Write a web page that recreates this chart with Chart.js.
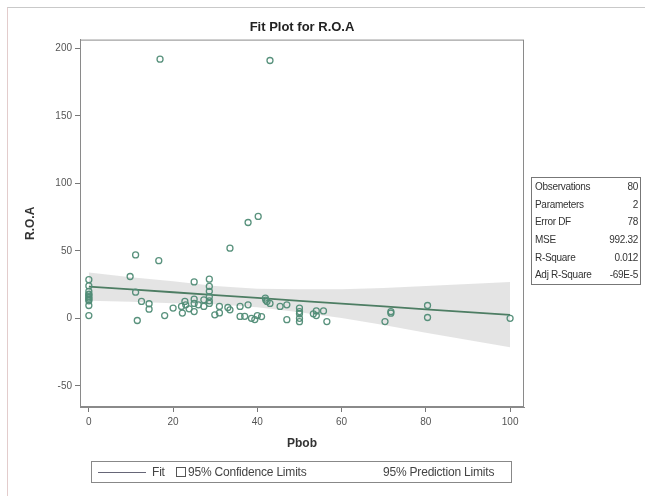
<!DOCTYPE html>
<html>
<head>
<meta charset="utf-8">
<script src="https://cdn.jsdelivr.net/npm/chart.js@4.4.1/dist/chart.umd.min.js"></script>
<style>
  html, body { margin: 0; padding: 0; background: #fff; }
  #wrap { position: relative; width: 645px; height: 496px; }
  #frame { position: absolute; left: 7px; top: 7px; width: 640px; height: 490px;
           border-top: 1px solid #c9c9c9; border-left: 1px solid #e3cccc; }
  canvas { position: absolute; left: 0; top: 0; }
  #stats { position: absolute; left: 531px; top: 177px; width: 110px; border: 1px solid #777;
           font: 10px "Liberation Sans", sans-serif; letter-spacing: -0.3px; color: #333;
           border-collapse: collapse; white-space: nowrap; }
  #stats td { padding: 1px 2px 1px 3px; height: 15.6px; }
  #stats td.v { text-align: right; }
  #legend { position: absolute; left: 91px; top: 461px; width: 419px; height: 20px;
            border: 1px solid #888; font: 12px "Liberation Sans", sans-serif; letter-spacing: -0.2px;
            color: #444; white-space: nowrap; }
  #legend span { position: absolute; top: 3px; }
  #legend .ln { top: 10px; left: 6px; width: 48px; border-top: 1px solid #667; }
  #legend .sq { top: 5px; left: 84px; width: 8px; height: 8px; border: 1px solid #555; }
</style>
</head>
<body>
<div id="wrap">
  <div id="frame"></div>
  <canvas id="fitChart" width="645" height="496"></canvas>
  <table id="stats">
    <tr><td>Observations</td><td class="v">80</td></tr>
    <tr><td>Parameters</td><td class="v">2</td></tr>
    <tr><td>Error DF</td><td class="v">78</td></tr>
    <tr><td>MSE</td><td class="v">992.32</td></tr>
    <tr><td>R-Square</td><td class="v">0.012</td></tr>
    <tr><td>Adj R-Square</td><td class="v">-69E-5</td></tr>
  </table>
  <div id="legend">
    <span class="ln"></span>
    <span style="left:60px">Fit</span>
    <span class="sq"></span>
    <span style="left:96px">95% Confidence Limits</span>
    <span style="left:291px">95% Prediction Limits</span>
  </div>
</div>
<script>
// observations (Pbob, R.O.A)
const pbob = [0, 0, 0, 0, 0, 0, 0, 0, 0, 0, 0,
  9.8, 11.1, 16.6, 11.1, 12.5, 14.3, 14.3, 11.5, 18, 20, 22, 22.2, 22.8, 23.8, 25, 25, 25, 25,
  27.3, 27.3, 28.6, 28.6, 28.6, 28.6, 28.6, 29.9, 31, 31, 33.5, 33.5, 35.9, 35.9, 37.8, 37, 38.6,
  39.4, 41, 41.9, 42.3, 43, 37.8, 40.2, 16.9, 43, 45.4, 47, 47, 50, 50, 50, 50, 53.3, 54, 54,
  55.7, 56.5, 70.3, 71.7, 71.7, 80.4, 80.4, 100, 28.6, 26, 40, 42, 50, 23, 33];
const roa = [28.6, 24, 20, 17.4, 16, 15, 13, 9.5, 2, 18, 14,
  31, 47, 42.7, 19.4, 12.5, 10.8, 6.8, -1.6, 2, 7.6, 8.8, 3.9, 12.5, 7, 14.2, 11, 5, 27,
  13.7, 8.8, 29, 23.6, 20, 16, 11, 2.6, 8.8, 4, 52, 6.3, 8.8, 1.4, 10, 1.5, 0,
  -0.9, 1.3, 15, 12.5, 11, 71, 75.5, 192, 191, 8.8, 10, -1, 7.6, 3.4, 0, -2.5, 3.3, 2, 5.5,
  5.5, -2.4, -2.4, 3.8, 5, 9.5, 0.6, 0, 13, 10, 2, 13.5, 5, 10, 8];

// fitted line and 95% confidence band
const bandX = [0, 10, 20, 30, 40, 50, 60, 70, 80, 90, 100];
const fitY = [23.5, 21.4, 19.3, 17.2, 15.1, 13, 10.9, 8.8, 6.7, 4.6, 2.5];
const bandUpper = [34, 30.5, 27.5, 24, 22, 21.5, 21.5, 22.5, 24, 25.5, 27];
const bandLower = [13, 12.3, 11.1, 10.4, 8.2, 4.5, 0.3, -4.9, -10.6, -16, -21.5];

const xTicks = [0, 20, 40, 60, 80, 100];
const yTicks = [-50, 0, 50, 100, 150, 200];

const pts = (xs, ys) => xs.map((x, i) => ({ x: x, y: ys[i] }));

const plotFrame = {
  id: 'plotFrame',
  afterDraw(chart) {
    const a = chart.chartArea, ctx = chart.ctx;
    ctx.save();
    ctx.strokeStyle = '#8a8a8a';
    ctx.lineWidth = 1;
    ctx.strokeRect(a.left + 0.5, a.top + 0.5, a.right - a.left - 1, a.bottom - a.top - 1);
    ctx.restore();
  }
};

const font = "'Liberation Sans', sans-serif";

new Chart(document.getElementById('fitChart'), {
  type: 'scatter',
  data: {
    datasets: [{
      label: 'R.O.A',
      data: pts(pbob, roa),
      pointRadius: 3,
      pointBorderWidth: 1.3,
      borderColor: 'rgba(80, 140, 118, 0.95)',
      backgroundColor: 'rgba(0,0,0,0)'
    }, {
      label: 'Fit',
      data: pts(bandX, fitY),
      showLine: true,
      pointRadius: 0,
      borderColor: '#4d7d63',
      borderWidth: 1.8
    }, {
      label: '95% Confidence Limits',
      data: pts(bandX, bandUpper),
      showLine: true,
      pointRadius: 0,
      borderWidth: 0,
      borderColor: 'rgba(0,0,0,0)',
      backgroundColor: 'rgba(210, 210, 210, 0.6)',
      fill: '+1'
    }, {
      label: 'lower',
      data: pts(bandX, bandLower),
      showLine: true,
      pointRadius: 0,
      borderWidth: 0,
      borderColor: 'rgba(0,0,0,0)'
    }]
  },
  options: {
    responsive: false,
    animation: false,
    layout: { padding: { top: 0, right: 121, bottom: 41, left: 20 } },
    plugins: {
      legend: { display: false },
      tooltip: { enabled: false },
      title: {
        display: true,
        fullSize: false,
        text: 'Fit Plot for R.O.A',
        color: '#222',
        font: { family: font, size: 13, weight: 'bold' },
        padding: { top: 20, bottom: 4 }
      }
    },
    scales: {
      x: {
        type: 'linear',
        min: -2.1,
        max: 103.3,
        afterBuildTicks: s => { s.ticks = xTicks.map(v => ({ value: v })); },
        afterFit: s => { s.height = 48; },
        grid: { drawOnChartArea: false, tickLength: 5, color: '#777' },
        border: { color: '#8a8a8a' },
        ticks: { color: '#555', font: { family: font, size: 10 }, padding: 4 },
        title: { display: true, text: 'Pbob', color: '#333',
                 font: { family: font, size: 12, weight: 'bold' }, padding: { top: 0, bottom: 4 } }
      },
      y: {
        type: 'linear',
        min: -65.7,
        max: 206.5,
        afterBuildTicks: s => { s.ticks = yTicks.map(v => ({ value: v })); },
        afterFit: s => { s.width = 60; },
        grid: { drawOnChartArea: false, tickLength: 5, color: '#777' },
        border: { color: '#8a8a8a' },
        ticks: { color: '#555', font: { family: font, size: 10 }, padding: 3 },
        title: { display: true, text: 'R.O.A', color: '#333',
                 font: { family: font, size: 12, weight: 'bold' }, padding: { top: 3, bottom: 0 } }
      }
    }
  },
  plugins: [plotFrame]
});
</script>
</body>
</html>
